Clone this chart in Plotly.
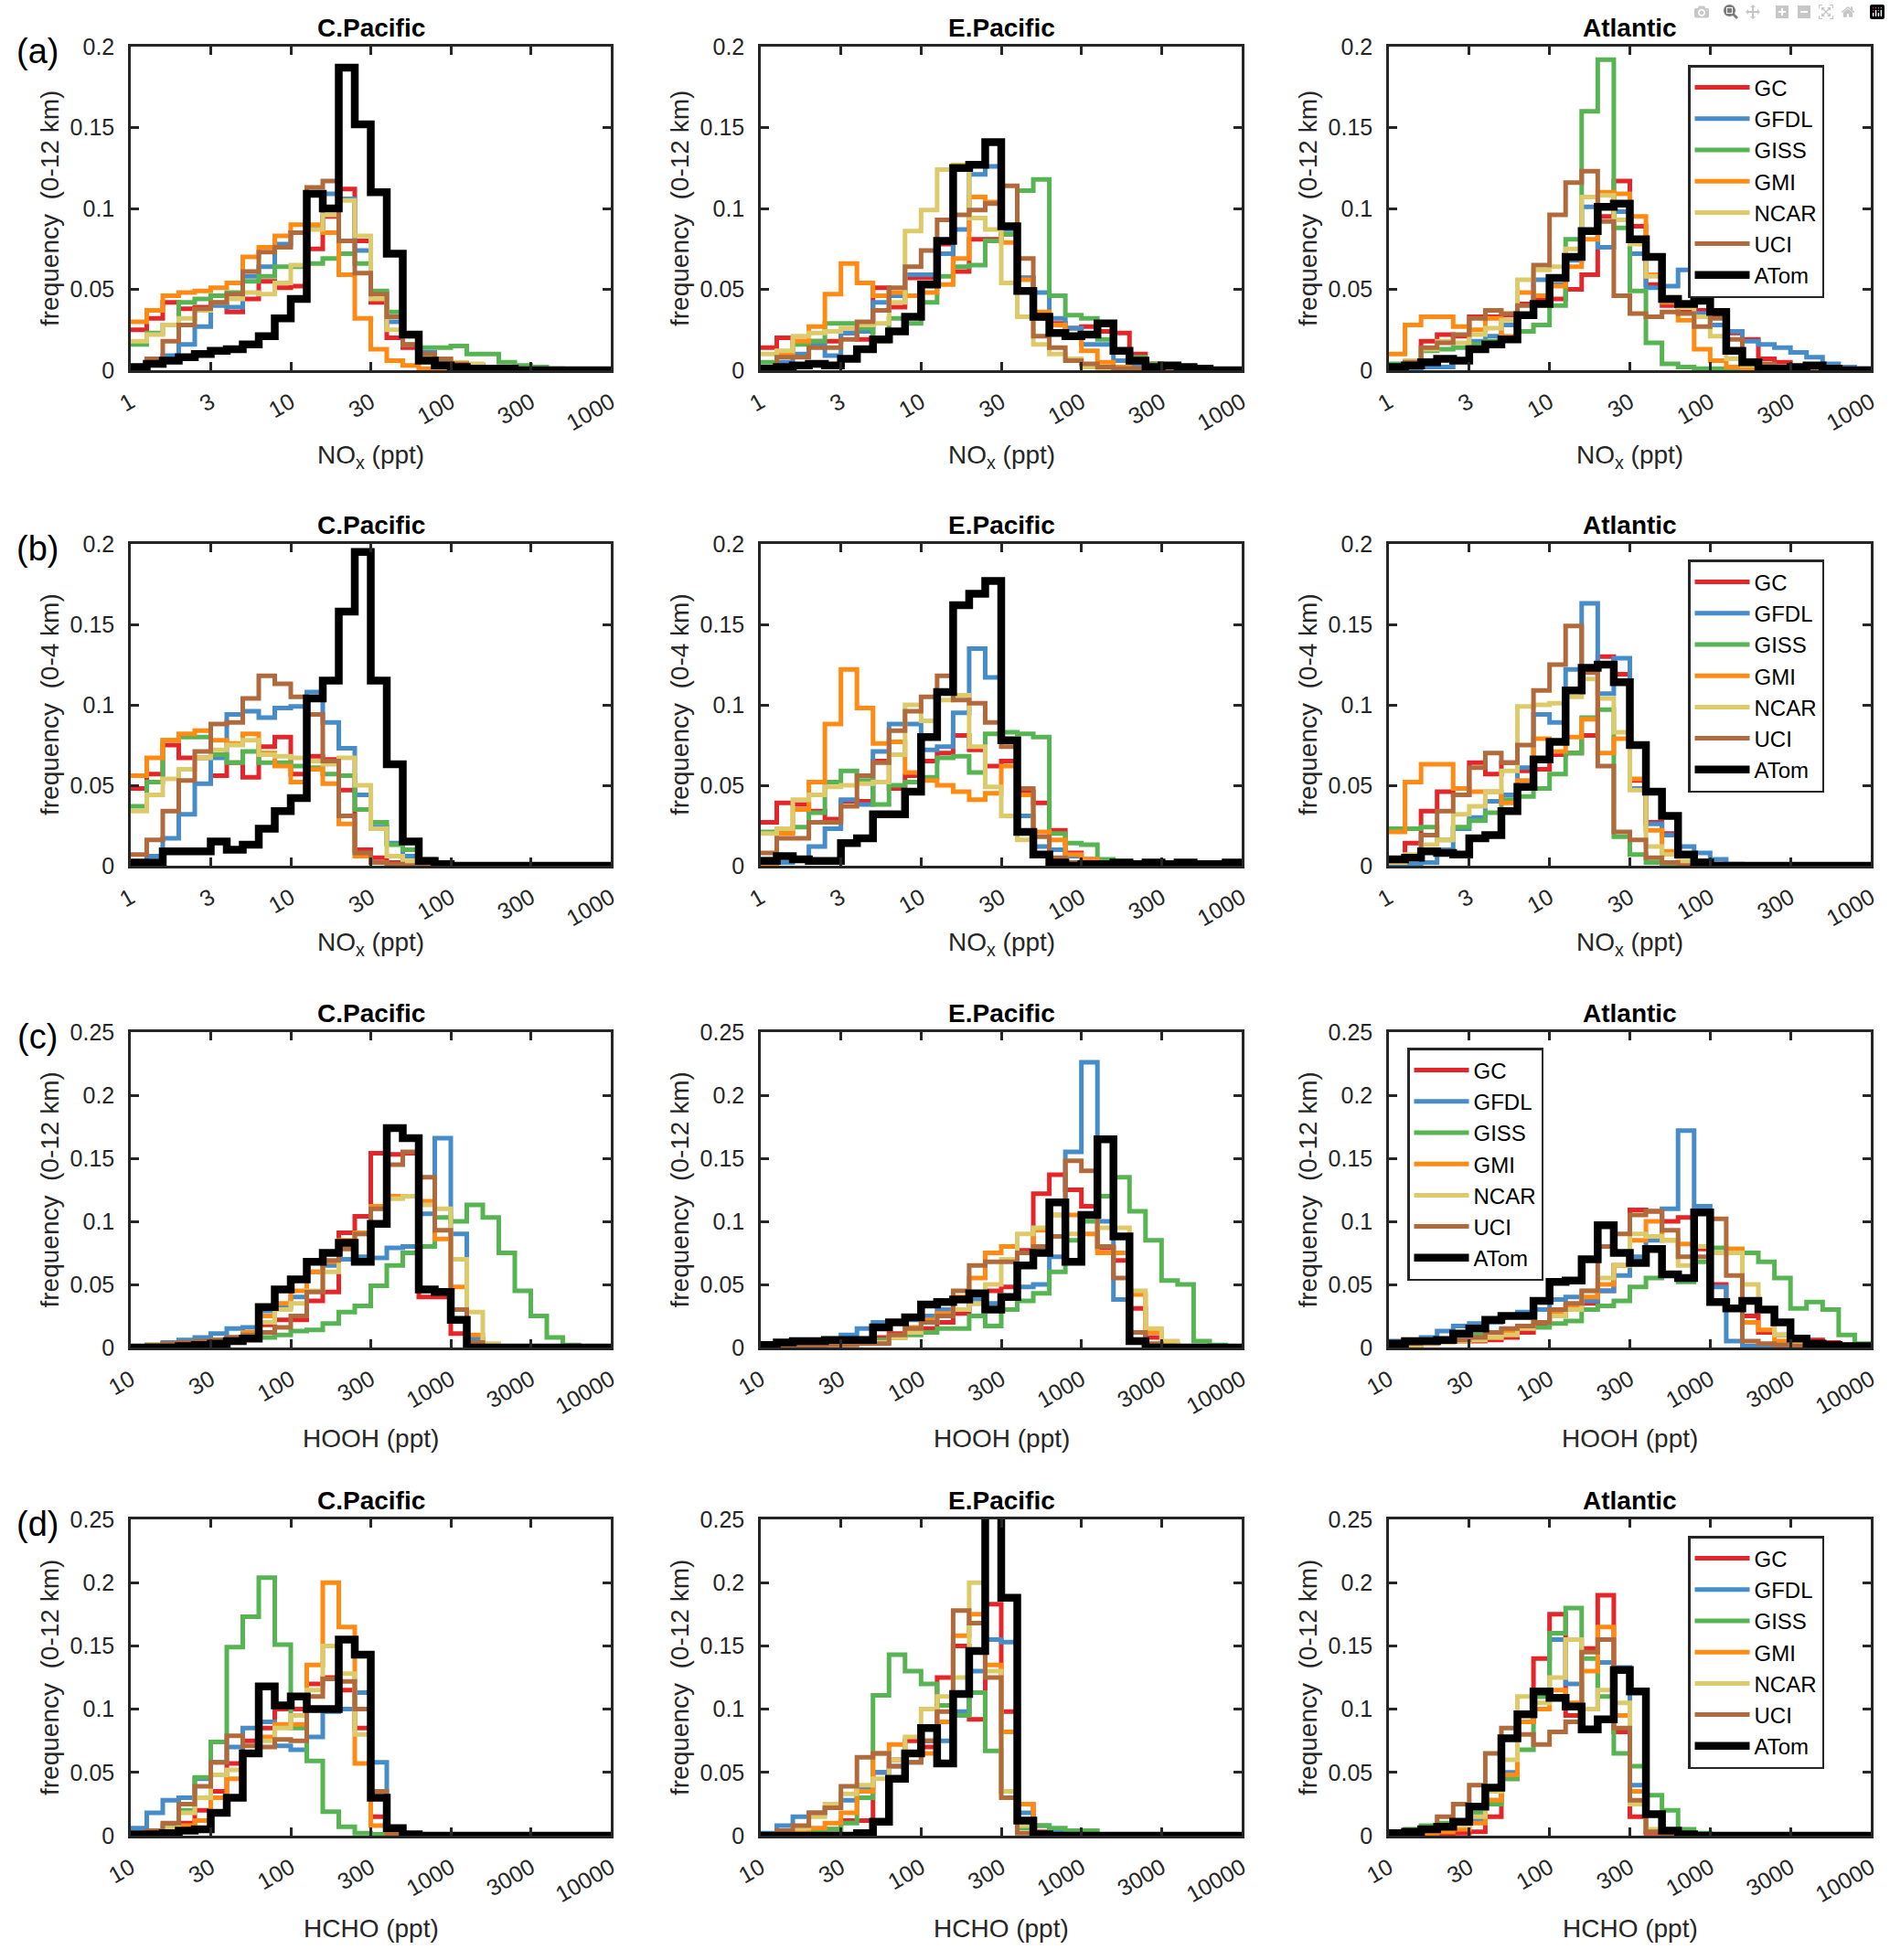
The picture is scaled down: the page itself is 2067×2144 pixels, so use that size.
import numpy as np
import plotly.graph_objects as go
from plotly.subplots import make_subplots

# ------------------------------------------------------------------------------#
# Frequency distributions (fraction of samples per bin), 10 log bins per decade,
# 30 bins per panel. NOx: 1-1000 ppt, HOOH / HCHO: 10-10000 ppt.
# ------------------------------------------------------------------------------#

MODELS = ["GC", "GFDL", "GISS", "GMI", "NCAR", "UCI", "ATom"]
REGIONS = ["C.Pacific", "E.Pacific", "Atlantic"]

nox_tick_labels = ["1", "3", "10", "30", "100", "300", "1000"]
ppt_tick_labels = ["10", "30", "100", "300", "1000", "3000", "10000"]

# (a) NOx, 0-12 km
nox12_cpac = {
    "GC":   [0.025, 0.032, 0.042, 0.038, 0.039, 0.041, 0.036, 0.044, 0.055, 0.051, 0.052, 0.075, 0.095, 0.112, 0.080, 0.042, 0.020, 0.014, 0.010, 0.006, 0.004, 0.003, 0.002, 0.001, 0.001, 0, 0, 0, 0, 0],
    "GFDL": [0.002, 0.004, 0.009, 0.016, 0.027, 0.040, 0.039, 0.058, 0.064, 0.078, 0.085, 0.089, 0.109, 0.106, 0.074, 0.048, 0.030, 0.016, 0.011, 0.006, 0.004, 0.003, 0.002, 0.001, 0.001, 0, 0, 0, 0, 0],
    "GISS": [0.016, 0.023, 0.028, 0.042, 0.044, 0.046, 0.048, 0.055, 0.058, 0.064, 0.064, 0.066, 0.069, 0.072, 0.066, 0.049, 0.036, 0.021, 0.014, 0.014, 0.015, 0.010, 0.010, 0.005, 0.003, 0.002, 0.001, 0, 0, 0],
    "GMI":  [0.030, 0.037, 0.046, 0.048, 0.049, 0.051, 0.054, 0.070, 0.076, 0.083, 0.090, 0.090, 0.085, 0.059, 0.032, 0.013, 0.006, 0.003, 0.001, 0, 0, 0, 0, 0, 0, 0, 0, 0, 0, 0],
    "NCAR": [0.018, 0.022, 0.028, 0.032, 0.037, 0.042, 0.044, 0.048, 0.047, 0.054, 0.065, 0.087, 0.096, 0.105, 0.083, 0.044, 0.025, 0.016, 0.008, 0.007, 0.005, 0.004, 0.002, 0.001, 0, 0, 0, 0, 0, 0],
    "UCI":  [0.002, 0.007, 0.018, 0.028, 0.038, 0.042, 0.047, 0.061, 0.073, 0.076, 0.085, 0.113, 0.117, 0.080, 0.060, 0.047, 0.033, 0.016, 0.010, 0.007, 0.004, 0.002, 0.001, 0.001, 0, 0, 0, 0, 0, 0],
    "ATom": [0.002, 0.004, 0.006, 0.008, 0.010, 0.012, 0.013, 0.016, 0.021, 0.032, 0.044, 0.109, 0.100, 0.187, 0.152, 0.110, 0.072, 0.022, 0.006, 0.003, 0.002, 0.001, 0.001, 0.001, 0, 0, 0, 0, 0, 0],
}
nox12_epac = {
    "GC":   [0.014, 0.020, 0.018, 0.018, 0.018, 0.023, 0.019, 0.051, 0.039, 0.057, 0.057, 0.078, 0.061, 0.081, 0.081, 0.084, 0.057, 0.032, 0.029, 0.026, 0.027, 0.024, 0.023, 0.010, 0.004, 0.002, 0.001, 0.001, 0, 0],
    "GFDL": [0.002, 0.005, 0.010, 0.016, 0.009, 0.023, 0.024, 0.042, 0.046, 0.059, 0.059, 0.072, 0.087, 0.121, 0.126, 0.087, 0.057, 0.048, 0.032, 0.026, 0.016, 0.016, 0.006, 0.003, 0.002, 0.001, 0.001, 0, 0, 0],
    "GISS": [0.005, 0.010, 0.016, 0.018, 0.029, 0.029, 0.026, 0.018, 0.032, 0.029, 0.042, 0.058, 0.064, 0.065, 0.080, 0.084, 0.111, 0.118, 0.046, 0.034, 0.032, 0.019, 0.012, 0.008, 0.004, 0.002, 0.001, 0, 0, 0],
    "GMI":  [0.002, 0.010, 0.018, 0.027, 0.047, 0.066, 0.054, 0.046, 0.048, 0.046, 0.048, 0.053, 0.069, 0.107, 0.104, 0.079, 0.056, 0.036, 0.028, 0.021, 0.012, 0.005, 0.002, 0.001, 0.001, 0, 0, 0, 0, 0],
    "NCAR": [0.010, 0.012, 0.021, 0.023, 0.024, 0.026, 0.028, 0.029, 0.042, 0.086, 0.099, 0.124, 0.127, 0.094, 0.087, 0.054, 0.033, 0.016, 0.010, 0.007, 0.002, 0.001, 0, 0, 0, 0, 0, 0, 0, 0],
    "UCI":  [0.002, 0.008, 0.008, 0.014, 0.014, 0.019, 0.030, 0.037, 0.051, 0.064, 0.074, 0.093, 0.096, 0.099, 0.103, 0.114, 0.069, 0.021, 0.014, 0.006, 0.004, 0.002, 0.001, 0.001, 0.001, 0, 0, 0, 0, 0],
    "ATom": [0.001, 0.002, 0.003, 0.004, 0.003, 0.007, 0.013, 0.019, 0.024, 0.033, 0.053, 0.080, 0.125, 0.127, 0.141, 0.089, 0.049, 0.033, 0.023, 0.021, 0.022, 0.029, 0.012, 0.006, 0.002, 0.003, 0.002, 0.001, 0, 0],
}
nox12_atl = {
    "GC":   [0.002, 0.006, 0.018, 0.022, 0.021, 0.033, 0.033, 0.034, 0.041, 0.044, 0.044, 0.050, 0.059, 0.095, 0.117, 0.089, 0.053, 0.040, 0.036, 0.037, 0.033, 0.023, 0.019, 0.007, 0.005, 0.002, 0.001, 0, 0, 0],
    "GFDL": [0, 0.001, 0.002, 0.002, 0.006, 0.018, 0.021, 0.028, 0.034, 0.056, 0.053, 0.068, 0.101, 0.076, 0.098, 0.072, 0.051, 0.052, 0.062, 0.035, 0.028, 0.024, 0.018, 0.016, 0.014, 0.011, 0.008, 0.004, 0.002, 0.001],
    "GISS": [0.004, 0.006, 0.012, 0.013, 0.014, 0.016, 0.018, 0.020, 0.024, 0.028, 0.040, 0.081, 0.160, 0.192, 0.088, 0.049, 0.017, 0.004, 0.002, 0.001, 0.001, 0.001, 0, 0, 0, 0, 0, 0, 0, 0],
    "GMI":  [0.010, 0.028, 0.033, 0.033, 0.027, 0.025, 0.032, 0.021, 0.048, 0.046, 0.052, 0.064, 0.081, 0.110, 0.109, 0.095, 0.059, 0.042, 0.031, 0.013, 0.006, 0.002, 0.001, 0, 0, 0, 0, 0, 0, 0],
    "NCAR": [0.002, 0.006, 0.013, 0.018, 0.017, 0.022, 0.026, 0.031, 0.056, 0.062, 0.064, 0.075, 0.107, 0.108, 0.093, 0.078, 0.058, 0.045, 0.039, 0.033, 0.021, 0.007, 0.003, 0.001, 0, 0, 0, 0, 0, 0],
    "UCI":  [0.002, 0.005, 0.014, 0.017, 0.022, 0.032, 0.037, 0.035, 0.040, 0.065, 0.096, 0.116, 0.123, 0.092, 0.046, 0.035, 0.033, 0.036, 0.035, 0.027, 0.032, 0.019, 0.005, 0.004, 0.002, 0.001, 0, 0, 0, 0],
    "ATom": [0.002, 0.003, 0.005, 0.007, 0.006, 0.013, 0.016, 0.019, 0.034, 0.041, 0.057, 0.070, 0.086, 0.101, 0.103, 0.081, 0.070, 0.044, 0.041, 0.043, 0.036, 0.012, 0.005, 0.001, 0.001, 0.002, 0.003, 0.001, 0, 0],
}

# (b) NOx, 0-4 km
nox4_cpac = {
    "GC":   [0.048, 0.057, 0.075, 0.067, 0.067, 0.056, 0.064, 0.055, 0.074, 0.080, 0.057, 0.068, 0.066, 0.047, 0.010, 0.005, 0.002, 0, 0, 0, 0, 0, 0, 0, 0, 0, 0, 0, 0, 0],
    "GFDL": [0.002, 0.006, 0.017, 0.032, 0.051, 0.067, 0.094, 0.096, 0.092, 0.098, 0.099, 0.108, 0.089, 0.073, 0.044, 0.024, 0.014, 0.006, 0.003, 0, 0, 0, 0, 0, 0, 0, 0, 0, 0, 0],
    "GISS": [0.037, 0.052, 0.078, 0.080, 0.080, 0.069, 0.064, 0.071, 0.064, 0.064, 0.062, 0.061, 0.057, 0.056, 0.035, 0.027, 0.013, 0.010, 0.004, 0, 0, 0, 0, 0, 0, 0, 0, 0, 0, 0],
    "GMI":  [0.056, 0.067, 0.078, 0.082, 0.084, 0.078, 0.076, 0.082, 0.070, 0.062, 0.052, 0.060, 0.051, 0.026, 0.006, 0.002, 0, 0, 0, 0, 0, 0, 0, 0, 0, 0, 0, 0, 0, 0],
    "NCAR": [0.034, 0.044, 0.054, 0.060, 0.067, 0.072, 0.075, 0.078, 0.069, 0.068, 0.067, 0.065, 0.063, 0.067, 0.050, 0.023, 0.006, 0.003, 0, 0, 0, 0, 0, 0, 0, 0, 0, 0, 0, 0],
    "UCI":  [0.007, 0.016, 0.034, 0.053, 0.071, 0.088, 0.089, 0.104, 0.118, 0.113, 0.105, 0.094, 0.065, 0.031, 0.008, 0.002, 0.001, 0, 0, 0, 0, 0, 0, 0, 0, 0, 0, 0, 0, 0],
    "ATom": [0.002, 0.002, 0.009, 0.009, 0.009, 0.015, 0.010, 0.013, 0.023, 0.034, 0.042, 0.104, 0.115, 0.158, 0.195, 0.115, 0.063, 0.015, 0.003, 0.001, 0, 0, 0, 0, 0, 0, 0, 0, 0, 0],
}
nox4_epac = {
    "GC":   [0.027, 0.039, 0.038, 0.034, 0.029, 0.040, 0.040, 0.065, 0.048, 0.056, 0.065, 0.070, 0.081, 0.072, 0.062, 0.065, 0.046, 0.039, 0.022, 0.008, 0.004, 0.002, 0.001, 0, 0, 0, 0, 0, 0, 0],
    "GFDL": [0.004, 0.002, 0.004, 0.012, 0.023, 0.041, 0.038, 0.071, 0.088, 0.088, 0.072, 0.074, 0.095, 0.135, 0.117, 0.078, 0.031, 0.012, 0.010, 0.006, 0.003, 0.001, 0.001, 0, 0, 0, 0, 0, 0, 0],
    "GISS": [0.021, 0.021, 0.024, 0.033, 0.052, 0.059, 0.053, 0.038, 0.050, 0.052, 0.055, 0.067, 0.068, 0.058, 0.082, 0.083, 0.082, 0.080, 0.020, 0.014, 0.013, 0.004, 0.002, 0, 0, 0, 0, 0, 0, 0],
    "GMI":  [0, 0.020, 0.035, 0.052, 0.088, 0.122, 0.098, 0.076, 0.077, 0.058, 0.053, 0.050, 0.046, 0.041, 0.045, 0.062, 0.044, 0.021, 0.016, 0.007, 0.004, 0.002, 0.001, 0, 0, 0, 0, 0, 0, 0],
    "NCAR": [0.020, 0.023, 0.041, 0.044, 0.049, 0.050, 0.051, 0.052, 0.069, 0.100, 0.090, 0.103, 0.106, 0.074, 0.049, 0.031, 0.016, 0.006, 0.003, 0, 0, 0, 0, 0, 0, 0, 0, 0, 0, 0],
    "UCI":  [0.008, 0.017, 0.017, 0.027, 0.027, 0.037, 0.056, 0.064, 0.084, 0.096, 0.105, 0.118, 0.103, 0.101, 0.089, 0.074, 0.048, 0.018, 0.005, 0.002, 0.001, 0, 0, 0, 0, 0, 0, 0, 0, 0],
    "ATom": [0.003, 0.006, 0.004, 0.003, 0.003, 0.014, 0.017, 0.032, 0.032, 0.046, 0.080, 0.108, 0.162, 0.169, 0.177, 0.078, 0.021, 0.007, 0.002, 0, 0.001, 0.001, 0.002, 0.001, 0.002, 0.001, 0.002, 0.001, 0.001, 0.002],
}
nox4_atl = {
    "GC":   [0.002, 0.014, 0.034, 0.046, 0.044, 0.064, 0.057, 0.064, 0.059, 0.060, 0.069, 0.070, 0.081, 0.130, 0.119, 0.053, 0.027, 0.020, 0.006, 0.003, 0.001, 0, 0, 0, 0, 0, 0, 0, 0, 0],
    "GFDL": [0, 0.001, 0.002, 0.010, 0.023, 0.030, 0.040, 0.044, 0.061, 0.094, 0.089, 0.122, 0.163, 0.107, 0.129, 0.048, 0.026, 0.019, 0.012, 0.008, 0.004, 0.001, 0, 0, 0, 0, 0, 0, 0, 0],
    "GISS": [0.023, 0.023, 0.024, 0.016, 0.024, 0.028, 0.033, 0.041, 0.043, 0.048, 0.057, 0.070, 0.092, 0.097, 0.018, 0.007, 0.002, 0.001, 0, 0, 0, 0, 0, 0, 0, 0, 0, 0, 0, 0],
    "GMI":  [0.021, 0.052, 0.063, 0.063, 0.048, 0.046, 0.046, 0.039, 0.053, 0.079, 0.071, 0.080, 0.091, 0.070, 0.079, 0.054, 0.022, 0.009, 0.002, 0, 0, 0, 0, 0, 0, 0, 0, 0, 0, 0],
    "NCAR": [0.002, 0.007, 0.013, 0.016, 0.032, 0.037, 0.046, 0.059, 0.099, 0.100, 0.101, 0.105, 0.116, 0.104, 0.083, 0.047, 0.012, 0.007, 0.003, 0, 0, 0, 0, 0, 0, 0, 0, 0, 0, 0],
    "UCI":  [0.003, 0.006, 0.019, 0.034, 0.044, 0.061, 0.070, 0.064, 0.075, 0.109, 0.125, 0.149, 0.120, 0.062, 0.021, 0.016, 0.005, 0.002, 0, 0, 0, 0, 0, 0, 0, 0, 0, 0, 0, 0],
    "ATom": [0.004, 0.005, 0.009, 0.008, 0.007, 0.017, 0.019, 0.034, 0.049, 0.066, 0.077, 0.109, 0.123, 0.125, 0.114, 0.075, 0.046, 0.031, 0.007, 0.002, 0, 0, 0, 0, 0, 0, 0, 0, 0, 0],
}

# (c) HOOH, 0-12 km
hooh_cpac = {
    "GC":   [0, 0.001, 0.001, 0.002, 0.003, 0.004, 0.008, 0.012, 0.018, 0.022, 0.022, 0.037, 0.044, 0.091, 0.104, 0.154, 0.153, 0.154, 0.040, 0.040, 0.011, 0.003, 0, 0, 0, 0, 0, 0, 0, 0],
    "GFDL": [0, 0.001, 0.004, 0.006, 0.008, 0.011, 0.015, 0.016, 0.029, 0.032, 0.040, 0.060, 0.065, 0.070, 0.072, 0.071, 0.079, 0.080, 0.106, 0.166, 0.090, 0.007, 0.002, 0, 0, 0, 0, 0, 0, 0],
    "GISS": [0.001, 0.002, 0.003, 0.004, 0.005, 0.006, 0.007, 0.008, 0.008, 0.010, 0.013, 0.014, 0.019, 0.028, 0.033, 0.049, 0.065, 0.075, 0.080, 0.103, 0.100, 0.113, 0.103, 0.075, 0.045, 0.025, 0.008, 0.002, 0, 0],
    "GMI":  [0, 0.001, 0.001, 0.002, 0.003, 0.004, 0.006, 0.012, 0.025, 0.035, 0.045, 0.060, 0.068, 0.085, 0.091, 0.112, 0.120, 0.120, 0.116, 0.086, 0.048, 0.010, 0.002, 0, 0, 0, 0, 0, 0, 0],
    "NCAR": [0, 0.001, 0.001, 0.002, 0.003, 0.004, 0.006, 0.010, 0.020, 0.030, 0.035, 0.045, 0.060, 0.080, 0.090, 0.110, 0.118, 0.120, 0.113, 0.110, 0.070, 0.028, 0.003, 0, 0, 0, 0, 0, 0, 0],
    "UCI":  [0.001, 0.002, 0.003, 0.004, 0.005, 0.006, 0.008, 0.010, 0.012, 0.016, 0.025, 0.044, 0.069, 0.078, 0.090, 0.110, 0.145, 0.155, 0.135, 0.093, 0.030, 0.004, 0, 0, 0, 0, 0, 0, 0, 0],
    "ATom": [0, 0, 0, 0.001, 0.002, 0.003, 0.005, 0.007, 0.032, 0.046, 0.054, 0.068, 0.075, 0.083, 0.068, 0.098, 0.174, 0.166, 0.046, 0.044, 0.022, 0, 0, 0, 0, 0, 0, 0, 0, 0],
}
hooh_epac = {
    "GC":   [0, 0.001, 0.001, 0.002, 0.003, 0.004, 0.005, 0.008, 0.011, 0.012, 0.015, 0.020, 0.027, 0.035, 0.045, 0.048, 0.077, 0.122, 0.137, 0.125, 0.112, 0.079, 0.069, 0.031, 0.008, 0.002, 0, 0, 0, 0],
    "GFDL": [0.001, 0.002, 0.003, 0.004, 0.006, 0.010, 0.015, 0.020, 0.020, 0.022, 0.025, 0.030, 0.030, 0.038, 0.035, 0.040, 0.048, 0.050, 0.072, 0.155, 0.226, 0.100, 0.038, 0.004, 0, 0, 0, 0, 0, 0],
    "GISS": [0, 0.001, 0.001, 0.002, 0.003, 0.004, 0.005, 0.006, 0.008, 0.010, 0.012, 0.015, 0.015, 0.025, 0.017, 0.030, 0.037, 0.043, 0.060, 0.085, 0.100, 0.120, 0.135, 0.108, 0.085, 0.053, 0.050, 0.005, 0.002, 0],
    "GMI":  [0, 0.001, 0.001, 0.002, 0.003, 0.003, 0.004, 0.004, 0.008, 0.016, 0.022, 0.027, 0.040, 0.055, 0.075, 0.080, 0.075, 0.093, 0.105, 0.105, 0.090, 0.075, 0.075, 0.042, 0.012, 0.003, 0, 0, 0, 0],
    "NCAR": [0, 0.001, 0.001, 0.002, 0.002, 0.003, 0.004, 0.004, 0.008, 0.012, 0.020, 0.025, 0.030, 0.035, 0.050, 0.070, 0.090, 0.095, 0.105, 0.090, 0.105, 0.095, 0.095, 0.045, 0.015, 0.005, 0, 0, 0, 0],
    "UCI":  [0, 0, 0.001, 0.001, 0.002, 0.002, 0.003, 0.003, 0.010, 0.015, 0.020, 0.025, 0.045, 0.065, 0.068, 0.068, 0.075, 0.080, 0.088, 0.148, 0.140, 0.080, 0.055, 0.012, 0.003, 0, 0, 0, 0, 0],
    "ATom": [0.002, 0.004, 0.005, 0.005, 0.006, 0.006, 0.006, 0.016, 0.020, 0.024, 0.034, 0.036, 0.038, 0.043, 0.030, 0.040, 0.065, 0.075, 0.115, 0.068, 0.105, 0.165, 0.088, 0.005, 0, 0, 0, 0, 0, 0],
}
hooh_atl = {
    "GC":   [0.001, 0.002, 0.003, 0.004, 0.005, 0.005, 0.006, 0.008, 0.012, 0.018, 0.025, 0.030, 0.035, 0.045, 0.065, 0.109, 0.108, 0.100, 0.103, 0.078, 0.050, 0.030, 0.025, 0.012, 0.010, 0.008, 0.006, 0.004, 0.002, 0.001],
    "GFDL": [0.005, 0.006, 0.008, 0.013, 0.017, 0.019, 0.020, 0.025, 0.028, 0.030, 0.038, 0.040, 0.037, 0.045, 0.057, 0.072, 0.085, 0.110, 0.172, 0.112, 0.048, 0.005, 0.001, 0, 0, 0, 0, 0, 0, 0],
    "GISS": [0.003, 0.004, 0.005, 0.006, 0.008, 0.010, 0.012, 0.014, 0.016, 0.016, 0.019, 0.021, 0.030, 0.033, 0.037, 0.048, 0.055, 0.057, 0.052, 0.068, 0.079, 0.078, 0.075, 0.068, 0.055, 0.031, 0.036, 0.030, 0.010, 0.003],
    "GMI":  [0.001, 0.002, 0.003, 0.004, 0.005, 0.006, 0.008, 0.012, 0.016, 0.020, 0.027, 0.033, 0.040, 0.050, 0.065, 0.085, 0.100, 0.085, 0.082, 0.080, 0.075, 0.078, 0.020, 0.014, 0.005, 0.002, 0, 0, 0, 0],
    "NCAR": [0.001, 0.002, 0.003, 0.004, 0.005, 0.006, 0.008, 0.010, 0.015, 0.020, 0.025, 0.030, 0.045, 0.055, 0.065, 0.090, 0.088, 0.085, 0.065, 0.080, 0.075, 0.075, 0.050, 0.030, 0.010, 0.005, 0, 0, 0, 0],
    "UCI":  [0.002, 0.003, 0.004, 0.005, 0.006, 0.008, 0.012, 0.015, 0.017, 0.020, 0.030, 0.035, 0.045, 0.080, 0.090, 0.105, 0.108, 0.093, 0.072, 0.072, 0.102, 0.057, 0.005, 0.003, 0.002, 0.001, 0, 0, 0, 0],
    "ATom": [0.003, 0.005, 0.005, 0.006, 0.011, 0.015, 0.022, 0.025, 0.025, 0.037, 0.052, 0.053, 0.070, 0.097, 0.075, 0.067, 0.078, 0.058, 0.055, 0.107, 0.036, 0.031, 0.037, 0.030, 0.020, 0.007, 0.003, 0.002, 0.001, 0.001],
}

# (d) HCHO, 0-12 km
hcho_cpac = {
    "GC":   [0, 0.001, 0.004, 0.010, 0.020, 0.035, 0.057, 0.075, 0.085, 0.100, 0.100, 0.120, 0.125, 0.115, 0.085, 0.015, 0.002, 0, 0, 0, 0, 0, 0, 0, 0, 0, 0, 0, 0, 0],
    "GFDL": [0.006, 0.018, 0.028, 0.030, 0.045, 0.058, 0.070, 0.085, 0.090, 0.071, 0.068, 0.078, 0.098, 0.100, 0.113, 0.058, 0.003, 0, 0, 0, 0, 0, 0, 0, 0, 0, 0, 0, 0, 0],
    "GISS": [0.001, 0.003, 0.008, 0.020, 0.046, 0.074, 0.149, 0.173, 0.204, 0.151, 0.085, 0.059, 0.019, 0.007, 0.002, 0.001, 0, 0, 0, 0, 0, 0, 0, 0, 0, 0, 0, 0, 0, 0],
    "GMI":  [0, 0.001, 0.003, 0.008, 0.012, 0.030, 0.045, 0.064, 0.078, 0.088, 0.088, 0.135, 0.200, 0.165, 0.057, 0.008, 0.001, 0, 0, 0, 0, 0, 0, 0, 0, 0, 0, 0, 0, 0],
    "NCAR": [0, 0.002, 0.006, 0.018, 0.030, 0.048, 0.052, 0.065, 0.075, 0.085, 0.095, 0.115, 0.150, 0.128, 0.080, 0.030, 0.005, 0, 0, 0, 0, 0, 0, 0, 0, 0, 0, 0, 0, 0],
    "UCI":  [0.001, 0.004, 0.010, 0.025, 0.039, 0.058, 0.079, 0.071, 0.070, 0.076, 0.075, 0.110, 0.124, 0.122, 0.100, 0.035, 0.001, 0, 0, 0, 0, 0, 0, 0, 0, 0, 0, 0, 0, 0],
    "ATom": [0.001, 0.001, 0.002, 0.004, 0.005, 0.018, 0.030, 0.065, 0.118, 0.103, 0.110, 0.100, 0.100, 0.155, 0.143, 0.030, 0.006, 0.001, 0, 0, 0, 0, 0, 0, 0, 0, 0, 0, 0, 0],
}
hcho_epac = {
    "GC":   [0, 0.001, 0.002, 0.003, 0.005, 0.012, 0.012, 0.050, 0.060, 0.075, 0.070, 0.125, 0.150, 0.092, 0.183, 0.098, 0.025, 0.003, 0, 0, 0, 0, 0, 0, 0, 0, 0, 0, 0, 0],
    "GFDL": [0.002, 0.008, 0.015, 0.018, 0.022, 0.028, 0.038, 0.050, 0.055, 0.058, 0.075, 0.075, 0.098, 0.130, 0.155, 0.153, 0.018, 0.008, 0.004, 0.002, 0.001, 0, 0, 0, 0, 0, 0, 0, 0, 0],
    "GISS": [0.001, 0.001, 0.002, 0.003, 0.005, 0.010, 0.030, 0.111, 0.143, 0.130, 0.120, 0.103, 0.095, 0.113, 0.067, 0.035, 0.006, 0.008, 0.006, 0.004, 0.004, 0.001, 0, 0, 0, 0, 0, 0, 0, 0],
    "GMI":  [0, 0, 0.002, 0.006, 0.010, 0.018, 0.035, 0.065, 0.072, 0.065, 0.065, 0.090, 0.158, 0.175, 0.135, 0.082, 0.025, 0.002, 0, 0, 0, 0, 0, 0, 0, 0, 0, 0, 0, 0],
    "NCAR": [0, 0.002, 0.006, 0.015, 0.025, 0.033, 0.040, 0.045, 0.060, 0.078, 0.100, 0.110, 0.125, 0.200, 0.130, 0.035, 0.008, 0, 0, 0, 0, 0, 0, 0, 0, 0, 0, 0, 0, 0],
    "UCI":  [0.001, 0.004, 0.008, 0.018, 0.022, 0.039, 0.062, 0.065, 0.055, 0.058, 0.075, 0.098, 0.178, 0.168, 0.125, 0.030, 0.002, 0, 0, 0, 0, 0, 0, 0, 0, 0, 0, 0, 0, 0],
    "ATom": [0, 0, 0, 0, 0, 0, 0.002, 0.011, 0.045, 0.065, 0.085, 0.057, 0.112, 0.146, 0.280, 0.188, 0.012, 0.001, 0, 0, 0, 0, 0, 0, 0, 0, 0, 0, 0, 0],
}
hcho_atl = {
    "GC":   [0, 0, 0.001, 0.001, 0.002, 0.003, 0.015, 0.045, 0.090, 0.140, 0.175, 0.095, 0.148, 0.190, 0.082, 0.015, 0.002, 0, 0, 0, 0, 0, 0, 0, 0, 0, 0, 0, 0, 0],
    "GFDL": [0.001, 0.002, 0.003, 0.005, 0.008, 0.012, 0.028, 0.050, 0.090, 0.110, 0.155, 0.120, 0.100, 0.137, 0.133, 0.040, 0.003, 0, 0, 0, 0, 0, 0, 0, 0, 0, 0, 0, 0, 0],
    "GISS": [0.003, 0.005, 0.008, 0.010, 0.012, 0.018, 0.025, 0.045, 0.068, 0.110, 0.160, 0.180, 0.140, 0.110, 0.065, 0.055, 0.032, 0.020, 0.005, 0.002, 0, 0, 0, 0, 0, 0, 0, 0, 0, 0],
    "GMI":  [0.001, 0.001, 0.002, 0.003, 0.005, 0.010, 0.028, 0.048, 0.090, 0.100, 0.115, 0.105, 0.130, 0.165, 0.095, 0.035, 0.003, 0, 0, 0, 0, 0, 0, 0, 0, 0, 0, 0, 0, 0],
    "NCAR": [0.001, 0.002, 0.004, 0.006, 0.008, 0.015, 0.035, 0.060, 0.110, 0.105, 0.125, 0.155, 0.100, 0.115, 0.105, 0.025, 0.005, 0, 0, 0, 0, 0, 0, 0, 0, 0, 0, 0, 0, 0],
    "UCI":  [0.001, 0.002, 0.006, 0.015, 0.025, 0.040, 0.065, 0.085, 0.080, 0.072, 0.082, 0.090, 0.145, 0.155, 0.085, 0.028, 0.003, 0, 0, 0, 0, 0, 0, 0, 0, 0, 0, 0, 0, 0],
    "ATom": [0.002, 0.003, 0.005, 0.007, 0.011, 0.023, 0.038, 0.077, 0.096, 0.114, 0.109, 0.102, 0.084, 0.092, 0.131, 0.114, 0.017, 0.004, 0.001, 0, 0, 0, 0, 0, 0, 0, 0, 0, 0, 0],
}

# ------------------------------------------------------------------------------#
# Styling
# ------------------------------------------------------------------------------#
COLORS = {
    "GC": "#E4262A",
    "GFDL": "#468CC8",
    "GISS": "#57B453",
    "GMI": "#FF8A14",
    "NCAR": "#DDCB6B",
    "UCI": "#B06A3B",
    "ATom": "#000000",
}
FONT = "Liberation Sans, Arial, Helvetica, sans-serif"
INK = "#262626"
W, H = 2067, 2144

# plot areas in pixels (left, right) / (top, bottom)
col_px = [(143, 668), (832, 1358), (1519, 2046)]
row_px = [(51, 405), (595, 947), (1129, 1474), (1662, 2008)]


def px_x(x):
    return x / W


def px_y(y):
    return 1 - y / H


rows = [
    dict(label="(a)", data=[nox12_cpac, nox12_epac, nox12_atl], lo=0, ticks=nox_tick_labels,
         xtitle="NO<sub>x</sub> (ppt)", ytitle="frequency  (0-12 km)", ymax=0.2,
         legend="legend", legend_px=(1846, 71), xtitle_y=499),
    dict(label="(b)", data=[nox4_cpac, nox4_epac, nox4_atl], lo=0, ticks=nox_tick_labels,
         xtitle="NO<sub>x</sub> (ppt)", ytitle="frequency  (0-4 km)", ymax=0.2,
         legend="legend2", legend_px=(1846, 612), xtitle_y=1032),
    dict(label="(c)", data=[hooh_cpac, hooh_epac, hooh_atl], lo=1, ticks=ppt_tick_labels,
         xtitle="HOOH (ppt)", ytitle="frequency  (0-12 km)", ymax=0.25,
         legend="legend3", legend_px=(1539, 1146), xtitle_y=1573),
    dict(label="(d)", data=[hcho_cpac, hcho_epac, hcho_atl], lo=1, ticks=ppt_tick_labels,
         xtitle="HCHO (ppt)", ytitle="frequency  (0-12 km)", ymax=0.25,
         legend="legend4", legend_px=(1846, 1680), xtitle_y=2109),
]

fig = make_subplots(rows=4, cols=3)
annotations = []
legends = {}

for r, row in enumerate(rows, start=1):
    # 10 logarithmic bins per decade over three decades
    edges = 10 ** (row["lo"] + np.arange(31) / 10)
    tickvals = 10 ** (row["lo"] + np.arange(7) / 2)
    top, bottom = row_px[r - 1]

    for c, panel in enumerate(row["data"], start=1):
        left, right = col_px[c - 1]
        for m in MODELS:
            vals = panel[m]
            assert len(vals) == 30
            fig.add_trace(
                go.Scatter(
                    x=edges,
                    y=list(vals) + [vals[-1]],
                    mode="lines",
                    line=dict(color=COLORS[m], width=8.5 if m == "ATom" else 5, shape="hv"),
                    name=m,
                    showlegend=(c == 3),
                    legend=row["legend"],
                    hovertemplate=m + ": %{y:.3f}<extra></extra>",
                ),
                row=r,
                col=c,
            )

        fig.update_xaxes(
            domain=[px_x(left), px_x(right)],
            automargin=False,
            type="log",
            range=[row["lo"], row["lo"] + 3],
            tickvals=tickvals,
            ticktext=row["ticks"],
            tickangle=-30,
            ticks="inside",
            ticklen=9,
            tickwidth=2.5,
            tickcolor=INK,
            mirror="ticks",
            showline=True,
            linecolor=INK,
            linewidth=2.5,
            showgrid=False,
            zeroline=False,
            ticklabelstandoff=8,
            tickfont=dict(size=25, color=INK, family=FONT),
            row=r,
            col=c,
        )
        fig.update_yaxes(
            domain=[px_y(bottom), px_y(top)],
            automargin=False,
            range=[0, row["ymax"]],
            tick0=0,
            dtick=0.05,
            ticks="inside",
            ticklen=9,
            tickwidth=2.5,
            tickcolor=INK,
            mirror="ticks",
            showline=True,
            linecolor=INK,
            linewidth=2.5,
            showgrid=False,
            zeroline=False,
            ticklabelstandoff=10,
            tickfont=dict(size=25, color=INK, family=FONT),
            row=r,
            col=c,
        )

        # panel title
        annotations.append(dict(
            text="<b>" + REGIONS[c - 1] + "</b>", xref="paper", yref="paper",
            x=px_x((left + right) / 2), y=px_y(top - 3), xanchor="center", yanchor="bottom",
            showarrow=False, font=dict(size=28, color="#000000", family=FONT),
        ))
        # x-axis title
        annotations.append(dict(
            text=row["xtitle"], xref="paper", yref="paper",
            x=px_x((left + right) / 2), y=px_y(row["xtitle_y"]), xanchor="center", yanchor="middle",
            showarrow=False, font=dict(size=28, color=INK, family=FONT),
        ))
        # y-axis title
        annotations.append(dict(
            text=row["ytitle"], xref="paper", yref="paper", textangle=-90,
            x=px_x(left - 89), y=px_y((top + bottom) / 2), xanchor="center", yanchor="middle",
            showarrow=False, font=dict(size=28, color=INK, family=FONT),
        ))

    # panel letter
    annotations.append(dict(
        text=row["label"], xref="paper", yref="paper",
        x=px_x(41), y=px_y(top + 5), xanchor="center", yanchor="middle",
        showarrow=False, font=dict(size=38, color="#000000", family=FONT),
    ))

    lx, ly = row["legend_px"]
    legends[row["legend"]] = dict(
        x=px_x(lx), y=px_y(ly), xanchor="left", yanchor="top",
        bgcolor="white", bordercolor=INK, borderwidth=2.5,
        font=dict(size=24, color="#000000", family=FONT),
        itemwidth=60, tracegroupgap=0,
    )

fig.update_layout(
    width=W,
    height=H,
    margin=dict(l=0, r=0, t=0, b=0),
    paper_bgcolor="white",
    plot_bgcolor="white",
    font=dict(family=FONT, color=INK),
    annotations=annotations,
    **legends,
)

fig.write_html("out.html", post_script="document.body.style.margin='0px';")
